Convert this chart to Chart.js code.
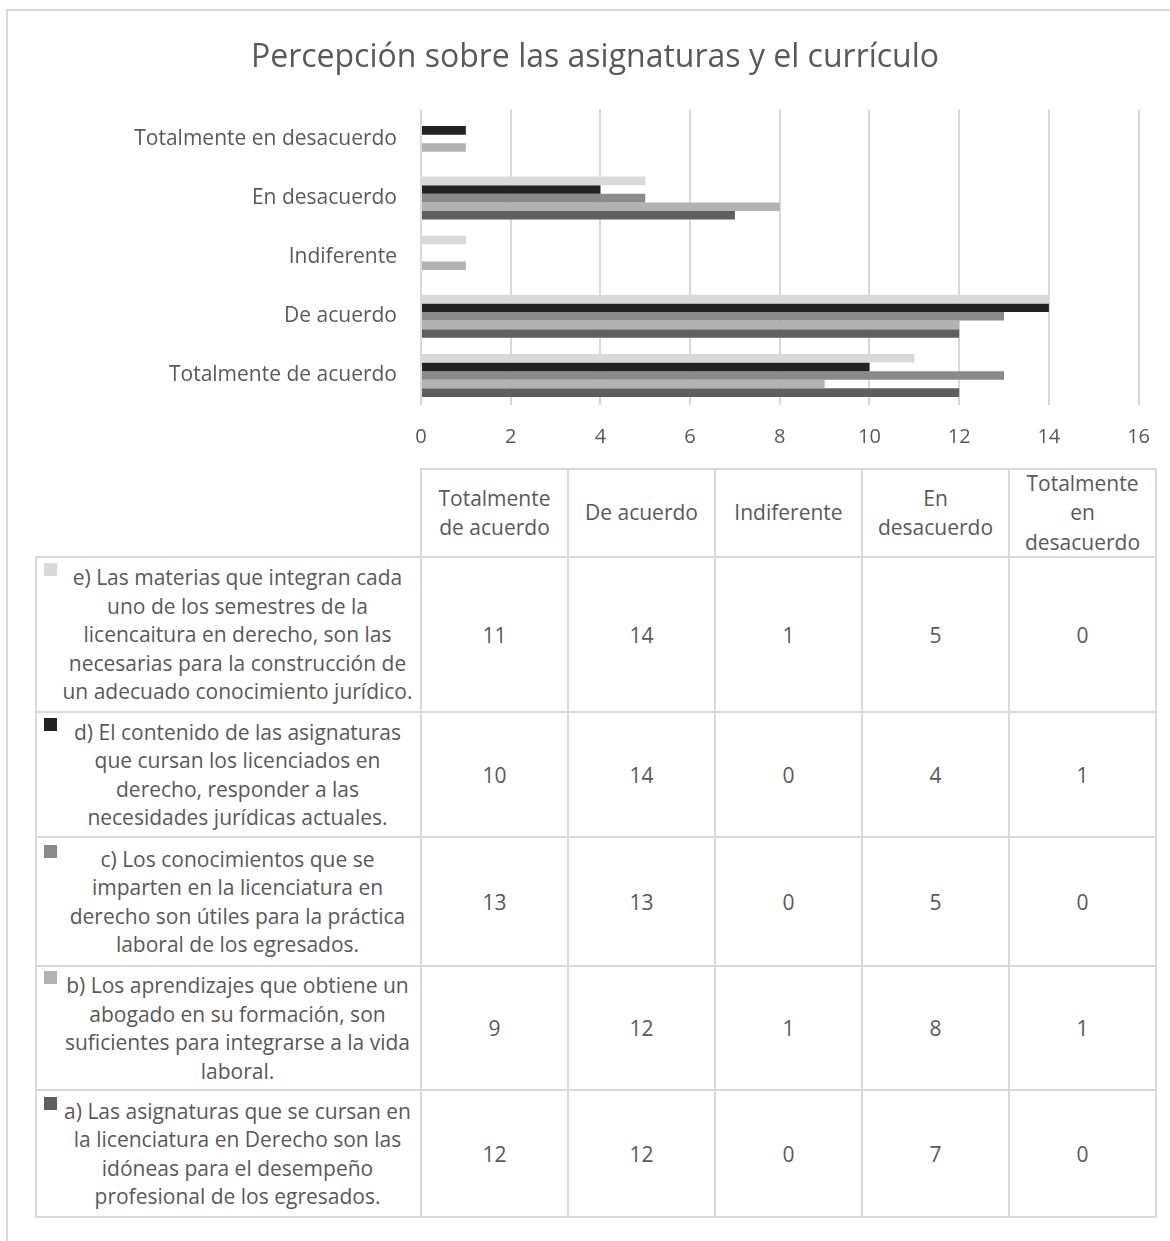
<!DOCTYPE html>
<html><head><meta charset="utf-8">
<script src="https://cdn.jsdelivr.net/npm/chart.js@4.4.1/dist/chart.umd.min.js"></script>
<style>
html,body{margin:0;padding:0;background:#fff;}
body{width:1170px;height:1241px;position:relative;overflow:hidden;font-family:'Open Sans',sans-serif;color:#595959;}
#frame{position:absolute;left:6px;top:9px;width:1300px;height:1400px;border:2px solid #d9d9d9;box-sizing:border-box;}
#chartBox{position:absolute;left:0;top:0;width:1170px;height:460px;}
.cell{position:absolute;box-sizing:border-box;display:flex;align-items:center;justify-content:center;text-align:center;white-space:pre-line;font-size:21px;color:#595959;}
.gl{position:absolute;background:#d9d9d9;}
.txt{position:relative;width:100%;line-height:28.5px;}
.key{position:absolute;width:13px;height:13px;left:-13px;top:0px;}
</style></head>
<body>
<div id="frame"></div>
<div id="chartBox"><canvas id="c" width="1170" height="460"></canvas></div>
<div id="table"></div>
<script>
// ---- data ----
const chartTitle = "Percepción sobre las asignaturas y el currículo";
const categories = ["Totalmente de acuerdo", "De acuerdo", "Indiferente", "En desacuerdo", "Totalmente en desacuerdo"];
const headerLabels = ["Totalmente\nde acuerdo", "De acuerdo", "Indiferente", "En\ndesacuerdo", "Totalmente\nen\ndesacuerdo"];
const seriesNames = [
  "e) Las materias que integran cada\nuno de los semestres de la\nlicencaitura en derecho, son las\nnecesarias para la construcción de\nun adecuado conocimiento jurídico.",
  "d) El contenido de las asignaturas\nque cursan los licenciados en\nderecho, responder a las\nnecesidades jurídicas actuales.",
  "c) Los conocimientos que se\nimparten en la licenciatura en\nderecho son útiles para la práctica\nlaboral de los egresados.",
  "b) Los aprendizajes que obtiene un\nabogado en su formación, son\nsuficientes para integrarse a la vida\nlaboral.",
  "a) Las asignaturas que se cursan en\nla licenciatura en Derecho son las\nidóneas para el desempeño\nprofesional de los egresados."
];
const seriesE = [11, 14, 1, 5, 0];
const seriesD = [10, 14, 0, 4, 1];
const seriesC = [13, 13, 0, 5, 0];
const seriesB = [9, 12, 1, 8, 1];
const seriesA = [12, 12, 0, 7, 0];
const xTickMin = 0, xTickMax = 16, xTickStep = 2;

// ---- styles ----
const seriesColors = ["#d9d9d9", "#232323", "#8a8a8a", "#b2b2b2", "#5f5f5f"];
const seriesValues = [seriesE, seriesD, seriesC, seriesB, seriesA];
const textColor = "#595959";

new Chart(document.getElementById('c'), {
  type: 'bar',
  data: {
    labels: categories,
    datasets: seriesNames.map((n, i) => ({
      label: n.replace(/\n/g, ' '),
      data: seriesValues[i],
      backgroundColor: seriesColors[i],
      borderWidth: 0,
      categoryPercentage: 0.727,
      barPercentage: 1
    }))
  },
  options: {
    indexAxis: 'y',
    responsive: false,
    animation: false,
    devicePixelRatio: 1,
    layout: { padding: { left: 46, right: 26, top: 0, bottom: 0 } },
    plugins: {
      legend: { display: false },
      tooltip: { enabled: false },
      title: {
        display: true, text: chartTitle, color: textColor,
        font: { family: 'Open Sans', size: 32, weight: 'normal' },
        padding: { top: 39, bottom: 32 }
      }
    },
    scales: {
      x: {
        min: xTickMin, max: xTickMax,
        ticks: { stepSize: xTickStep, color: textColor, font: { family: 'Open Sans', size: 20 }, padding: 20 },
        grid: { color: '#d9d9d9', lineWidth: 2, drawTicks: false },
        border: { display: false },
        afterFit(s) { s.height = 55; }
      },
      y: {
        reverse: true,
        ticks: { color: textColor, font: { family: 'Open Sans', size: 21 }, padding: 24 },
        grid: { display: false, drawTicks: false },
        border: { display: false },
        afterFit(s) { s.width = 375; }
      }
    }
  }
});

// ---- data table ----
const colX = [421, 568, 715, 862, 1009, 1156];
const tableLeft = 36;
const headerTop = 469;
const rowY = [557, 712, 837, 966, 1090, 1217];
const tbl = document.getElementById('table');
function line(x, y, w, h) {
  const d = document.createElement('div');
  d.className = 'gl';
  d.style.left = x + 'px'; d.style.top = y + 'px';
  d.style.width = w + 'px'; d.style.height = h + 'px';
  tbl.appendChild(d);
}
function cell(x0, y0, x1, y1) {
  const d = document.createElement('div');
  d.className = 'cell';
  d.style.left = x0 + 'px'; d.style.top = y0 + 'px';
  d.style.width = (x1 - x0) + 'px'; d.style.height = (y1 - y0) + 'px';
  tbl.appendChild(d);
  return d;
}
// header cells
headerLabels.forEach((h, i) => {
  const c = cell(colX[i], headerTop, colX[i + 1], rowY[0]);
  c.style.lineHeight = '29.5px';
  c.textContent = h;
});
// series rows
seriesNames.forEach((name, r) => {
  const lc = cell(tableLeft, rowY[r], colX[0], rowY[r + 1]);
  lc.style.paddingLeft = '21px';
  lc.style.paddingRight = '3px';
  const t = document.createElement('div');
  t.className = 'txt';
  t.textContent = name;
  const k = document.createElement('span');
  k.className = 'key';
  k.style.background = seriesColors[r];
  t.appendChild(k);
  lc.appendChild(t);
  seriesValues[r].forEach((v, i) => {
    const c = cell(colX[i], rowY[r], colX[i + 1], rowY[r + 1]);
    c.textContent = String(v);
  });
});
// grid lines
line(colX[0] - 1, headerTop - 1, colX[5] - colX[0] + 2, 2);
rowY.forEach(y => line(tableLeft - 1, y - 1, colX[5] - tableLeft + 2, 2));
colX.forEach(x => line(x - 1, headerTop - 1, 2, rowY[5] - headerTop + 2));
line(tableLeft - 1, rowY[0] - 1, 2, rowY[5] - rowY[0] + 2);
</script>
</body></html>
